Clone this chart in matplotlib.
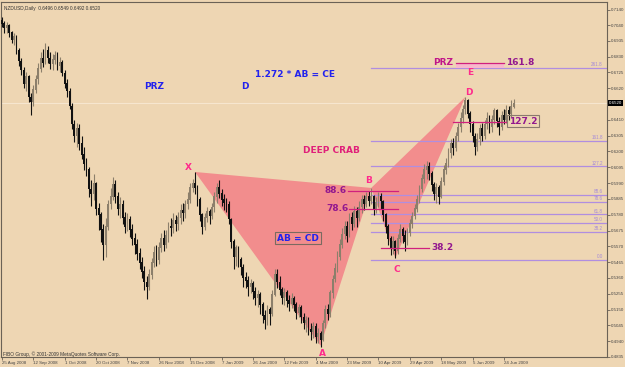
#!/usr/bin/env python3
"""
NZDUSD daily with a deep crab harmonic pattern drawn over it (MT4 style screenshot).
"""
import numpy as np
import matplotlib
matplotlib.use('Agg')
import matplotlib.pyplot as plt
from matplotlib.patches import Polygon
import matplotlib.transforms as mtransforms

# daily bars, bar 0 = 25 Aug 2008; open of each bar = previous close
first_open = 0.7070
closes = [
    .7050, .7020, .7035, .6990, .6940, .6960, .6870, .6800, .6740, .6650,
    .6700, .6560, .6530, .6610, .6680, .6750, .6820, .6790, .6870, .6820,
    .6780, .6810, .6840, .6770, .6790, .6720, .6650, .6600, .6500, .6380,
    .6300, .6350, .6250, .6180, .6120, .6080, .5950, .5920, .5990, .5820,
    .5780, .5680, .5580, .5700, .5850, .5900, .5980, .5900, .5820, .5850,
    .5760, .5700, .5750, .5680, .5620, .5580, .5520, .5460, .5400, .5330,
    .5300, .5380, .5460, .5530, .5480, .5560, .5620, .5580, .5640, .5700,
    .5690, .5740, .5720, .5760, .5810, .5790, .5850, .5880, .5960, .5990,
    .5960, .5880, .5780, .5700, .5760, .5800, .5770, .5830, .5900, .5960,
    .5920, .5880, .5860, .5850, .5750, .5600, .5500, .5560, .5480, .5430,
    .5360, .5340, .5300, .5320, .5270, .5230, .5250, .5180, .5110, .5080,
    .5150, .5120, .5250, .5380, .5330, .5280, .5230, .5260, .5210, .5190,
    .5220, .5180, .5130, .5160, .5100, .5060, .5080, .5020, .5000, .5040,
    .4970, .4990, .4950, .5060, .5150, .5120, .5260, .5350, .5420, .5500,
    .5580, .5650, .5700, .5640, .5760, .5720, .5800, .5760, .5830, .5880,
    .5850, .5900, .5870, .5900, .5820, .5860, .5900, .5870, .5780, .5700,
    .5620, .5560, .5600, .5540, .5620, .5680, .5640, .5600, .5660, .5720,
    .5770, .5820, .5880, .5950, .6020, .6080, .6100, .6050, .5980, .5920,
    .5960, .5900, .6000, .6080, .6120, .6190, .6250, .6220, .6300, .6360,
    .6420, .6480, .6540, .6450, .6380, .6300, .6230, .6280, .6350, .6300,
    .6380, .6420, .6360, .6410, .6470, .6400, .6360, .6440, .6410, .6470,
    .6450, .6496, .6520,
]
highs = [
    .7095, .7070, .7060, .7045, .7000, .6985, .6975, .6890, .6820, .6760,
    .6730, .6710, .6590, .6640, .6710, .6790, .6860, .6880, .6920, .6900,
    .6860, .6850, .6870, .6860, .6830, .6810, .6740, .6680, .6620, .6520,
    .6410, .6390, .6380, .6300, .6230, .6160, .6100, .6010, .6050, .6000,
    .5860, .5800, .5720, .5760, .5880, .5960, .6030, .6010, .5930, .5900,
    .5880, .5800, .5790, .5770, .5720, .5660, .5620, .5560, .5500, .5440,
    .5370, .5420, .5490, .5570, .5580, .5600, .5660, .5680, .5680, .5730,
    .5760, .5790, .5780, .5800, .5850, .5860, .5880, .5930, .5990, .6020,
    .6064, .5980, .5900, .5790, .5790, .5830, .5820, .5860, .5930, .5990,
    .6010, .5950, .5920, .5890, .5870, .5760, .5620, .5580, .5570, .5500,
    .5450, .5400, .5370, .5350, .5340, .5300, .5280, .5270, .5200, .5150,
    .5180, .5170, .5280, .5420, .5420, .5370, .5300, .5290, .5280, .5250,
    .5260, .5240, .5200, .5190, .5180, .5130, .5110, .5100, .5060, .5070,
    .5060, .5030, .5010, .5080, .5180, .5190, .5280, .5380, .5460, .5540,
    .5620, .5690, .5740, .5740, .5790, .5800, .5840, .5830, .5870, .5910,
    .5910, .5930, .5940, .5958, .5910, .5900, .5930, .5925, .5880, .5790,
    .5720, .5640, .5640, .5610, .5650, .5720, .5700, .5680, .5690, .5750,
    .5800, .5850, .5910, .5980, .6050, .6120, .6140, .6130, .6070, .6000,
    .5990, .5980, .6030, .6110, .6160, .6220, .6280, .6290, .6330, .6390,
    .6460, .6510, .6562, .6550, .6470, .6400, .6320, .6320, .6380, .6390,
    .6410, .6460, .6440, .6440, .6490, .6480, .6430, .6470, .6480, .6510,
    .6500, .6540, .6549,
]
lows = [
    .7030, .6990, .6985, .6960, .6920, .6905, .6850, .6770, .6710, .6620,
    .6600, .6530, .6440, .6500, .6590, .6650, .6730, .6760, .6780, .6790,
    .6750, .6740, .6780, .6740, .6730, .6700, .6620, .6560, .6480, .6350,
    .6260, .6230, .6210, .6150, .6080, .6040, .5900, .5840, .5880, .5780,
    .5680, .5600, .5480, .5500, .5680, .5820, .5880, .5860, .5780, .5760,
    .5720, .5660, .5670, .5630, .5580, .5520, .5480, .5420, .5360, .5280,
    .5220, .5280, .5350, .5430, .5440, .5450, .5530, .5540, .5560, .5600,
    .5640, .5660, .5670, .5680, .5720, .5740, .5760, .5820, .5860, .5930,
    .5920, .5840, .5740, .5650, .5680, .5730, .5720, .5750, .5800, .5860,
    .5890, .5840, .5810, .5800, .5720, .5560, .5420, .5440, .5430, .5380,
    .5300, .5290, .5240, .5260, .5220, .5180, .5170, .5120, .5060, .5020,
    .5050, .5050, .5110, .5240, .5290, .5250, .5190, .5180, .5170, .5140,
    .5160, .5140, .5090, .5100, .5060, .5020, .5000, .4980, .4950, .4960,
    .4930, .4930, .4900, .4940, .5030, .5080, .5100, .5230, .5330, .5400,
    .5480, .5560, .5620, .5600, .5630, .5680, .5700, .5700, .5740, .5790,
    .5810, .5830, .5840, .5850, .5780, .5790, .5830, .5820, .5740, .5660,
    .5580, .5510, .5520, .5493, .5520, .5600, .5590, .5540, .5580, .5640,
    .5690, .5750, .5800, .5860, .5930, .5990, .6020, .6010, .5940, .5880,
    .5860, .5850, .5890, .5980, .6050, .6100, .6160, .6180, .6200, .6270,
    .6330, .6390, .6450, .6420, .6330, .6260, .6180, .6200, .6240, .6270,
    .6280, .6350, .6320, .6330, .6380, .6360, .6310, .6340, .6380, .6390,
    .6410, .6430, .6492,
]

date_labels = ['25 Aug 2008', '12 Sep 2008', '1 Oct 2008', '20 Oct 2008', '7 Nov 2008',
               '26 Nov 2008', '15 Dec 2008', '7 Jan 2009', '26 Jan 2009', '12 Feb 2009',
               '4 Mar 2009', '23 Mar 2009', '10 Apr 2009', '29 Apr 2009', '18 May 2009',
               '5 Jun 2009', '24 Jun 2009']
bars_per_label = 13

price_ticks = [0.7140, 0.7040, 0.6935, 0.6830, 0.6725, 0.6620, 0.6410, 0.6305, 0.6200,
               0.6095, 0.5990, 0.5885, 0.5780, 0.5675, 0.5570, 0.5465, 0.5360, 0.5255,
               0.5150, 0.5045, 0.4940, 0.4835]
last_price = 0.6520

# harmonic pattern points
pattern_names = ['X', 'A', 'B', 'C', 'D']
pattern_bars = [80, 132, 153, 163, 192]
pattern_prices = [0.6064, 0.4910, 0.5958, 0.5493, 0.6562]
label_offsets = [(-5, 3), (1.5, -5.5), (-2, 5), (0.7, -8), (2.5, 3.5)]

# fibonacci expansion C -> B, drawn from bar of B to the right edge
fib_levels = [0.0, 38.2, 50.0, 61.8, 78.6, 88.6, 127.2, 161.8, 261.8]
fib_zero = 0.5480
fib_full = 0.5968
fib_start = 153

# short ratio marker lines
ratio_labels = ['88.6', '78.6', '38.2', '161.8', '127.2']
ratio_prices = [0.5938, 0.5819, 0.5560, 0.6788, 0.6398]
ratio_start = [143.5, 144, 157, 188, 187]
ratio_end = [164, 164, 177, 208, 209]

BG = '#eed6b3'
FRAME = '#6b6256'
PINK = '#ff2a8c'
PURPLE = '#93188f'
BLUE = '#2222ee'
FIB = '#b08ee0'
SMALL = ['Liberation Sans', 'DejaVu Sans']

fig = plt.figure(figsize=(6.25, 3.67), dpi=100, facecolor=BG)
ax = fig.add_axes([1 / 625, 10 / 367, 606 / 625, 355 / 367], facecolor=BG)

n = len(closes)
idx = np.arange(n)
c = np.array(closes)
o = np.array([first_open] + closes[:-1])
h = np.maximum(np.array(highs), np.maximum(o, c))
lo = np.minimum(np.array(lows), np.minimum(o, c))
up = c >= o
col = np.where(up, '#8c7f6b', '#111111')

# pattern triangles XAB and BCD
pts = list(zip(pattern_bars, pattern_prices))
for tri in ([pts[0], pts[1], pts[2]], [pts[2], pts[3], pts[4]]):
    ax.add_patch(Polygon(tri, closed=True, facecolor='#f28d8d', edgecolor='none', zorder=1))

# current price line
ax.axhline(last_price, color='#f6e6cf', lw=0.8, zorder=0.5)

# candles
ax.vlines(idx, lo, h, colors=col, lw=0.8, zorder=3)
ax.bar(idx, np.abs(c - o) + 0.0004, bottom=np.minimum(o, c), width=0.75, color=col,
       edgecolor='none', zorder=3)

# fibonacci lines
xmax = 250.7
for lev in fib_levels:
    p = fib_zero + (fib_full - fib_zero) * lev / 100.0
    ax.plot([fib_start, xmax], [p, p], color=FIB, lw=0.9, zorder=2)
    ax.annotate('%.1f' % lev, xy=(xmax, p), xytext=(-3, 0.5), textcoords='offset points',
                ha='right', va='bottom', fontsize=3.3, color='#a58ad8', zorder=4, family=SMALL)

# PRZ band between XA 161.8 and fib 261.8
p_top = ratio_prices[3]
p_bot = fib_zero + (fib_full - fib_zero) * 2.618
ax.fill_between([ratio_start[3], ratio_end[3]], p_bot, p_top, color='#f7b8cc', lw=0, zorder=2)

# short ratio lines
for lab, p, x0, x1 in zip(ratio_labels, ratio_prices, ratio_start, ratio_end):
    ax.plot([x0, x1], [p, p], color='#d0207e', lw=0.9, zorder=4)
    if lab in ('88.6', '78.6'):
        ax.text(x0 - 0.5, p, lab, ha='right', va='center', fontsize=6.5, fontweight='bold',
                color=PURPLE, zorder=5)
    elif lab == '127.2':
        ax.text(x1 + 1, p + 0.0003, lab, ha='left', va='center', fontsize=6.5, fontweight='bold',
                color=PURPLE, zorder=5,
                bbox=dict(boxstyle='square,pad=0.15', fc='none', ec='#8a7a6e', lw=0.8))
    else:
        ax.text(x1 + 1, p, lab, ha='left', va='center', fontsize=6.5, fontweight='bold',
                color=PURPLE, zorder=5)
ax.text(ratio_start[3] - 1, ratio_prices[3], 'PRZ', ha='right', va='center', fontsize=6.5,
        fontweight='bold', color='#c0158a', zorder=5)

# pattern point labels
for name, (bx, py), off in zip(pattern_names, pts, label_offsets):
    ax.annotate(name, xy=(bx, py), xytext=off, textcoords='offset points', ha='center',
                va='center', fontsize=6.5, fontweight='bold', color=PINK, zorder=6)

# free text
ax.text(0.7739, 0.8028, 'E', transform=ax.transAxes, ha='center', va='center', fontsize=6.5,
        fontweight='bold', color=PINK)
ax.text(0.5446, 0.5803, 'DEEP CRAB', transform=ax.transAxes, ha='center', va='center',
        fontsize=6.5, fontweight='bold', color='#e0207a')
ax.text(0.2525, 0.7606, 'PRZ', transform=ax.transAxes, ha='center', va='center',
        fontsize=6.5, fontweight='bold', color=BLUE)
ax.text(0.4026, 0.7606, 'D', transform=ax.transAxes, ha='center', va='center',
        fontsize=6.5, fontweight='bold', color=BLUE)
ax.text(0.4851, 0.7944, '1.272 * AB = CE', transform=ax.transAxes, ha='center', va='center',
        fontsize=6.5, fontweight='bold', color=BLUE)
ax.text(0.4901, 0.3352, 'AB = CD', transform=ax.transAxes, ha='center', va='center',
        fontsize=6.5, fontweight='bold', color=BLUE, zorder=6,
        bbox=dict(boxstyle='square,pad=0.2', fc='none', ec='#7a6a60', lw=0.8))
ax.text(0.005, 0.99, 'NZDUSD,Daily  0.6496 0.6549 0.6492 0.6520', transform=ax.transAxes,
        ha='left', va='top', fontsize=3.4, color='#333333', family=SMALL)
ax.text(0.004, 0.009, 'FIBO Group, \u00a9 2001-2009 MetaQuotes Software Corp.',
        transform=ax.transAxes, ha='left', va='center', fontsize=3.4, color='#333333',
        family=SMALL)

# axes
ax.set_xlim(-0.4, xmax)
ax.set_ylim(0.4835, 0.7193)
ax.yaxis.tick_right()
ax.set_yticks(price_ticks, ['%.4f' % v for v in price_ticks], family=SMALL)
ax.tick_params(axis='y', length=2, width=0.6, color=FRAME, labelsize=3.2, pad=1,
               labelcolor='#444444')
tick_pos = [i * bars_per_label for i in range(len(date_labels))]
ax.set_xticks(tick_pos, date_labels, ha='left', family=SMALL)
ax.tick_params(axis='x', length=2, width=0.6, color=FRAME, labelsize=3.2, pad=0.8,
               labelcolor='#444444')
for spine in ax.spines.values():
    spine.set_color(FRAME)
    spine.set_linewidth(0.8)

trans = mtransforms.blended_transform_factory(ax.transAxes, ax.transData)
ax.text(1.003, last_price, '%.4f' % last_price, transform=trans, ha='left', va='center',
        fontsize=3.2, color='white', family=SMALL,
        bbox=dict(boxstyle='square,pad=0.2', fc='black', ec='black', lw=0))

fig.savefig('out.png', dpi=100, facecolor=BG)
plt.close(fig)
